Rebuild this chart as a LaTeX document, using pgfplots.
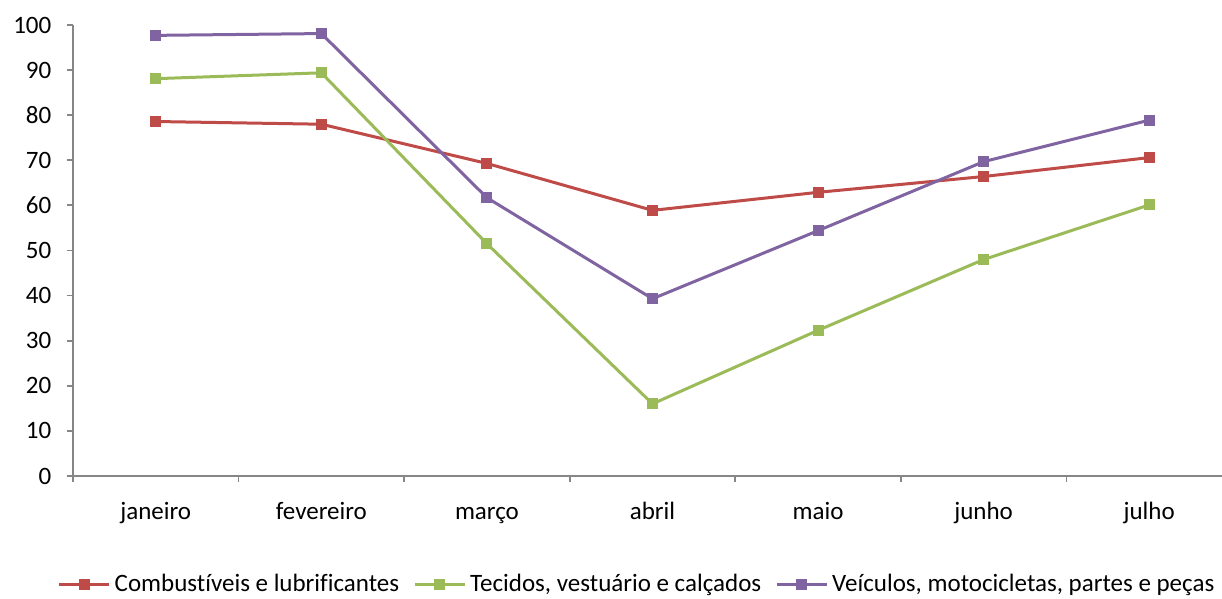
\documentclass[border=0pt]{standalone}
\usepackage{fontspec}
\setmainfont{Carlito}[Ligatures=NoCommon]
\usepackage{pgfplots}
\pgfplotsset{compat=1.18}
\definecolor{cred}{RGB}{190,75,72}
\definecolor{cgreen}{RGB}{155,187,89}
\definecolor{cpurple}{RGB}{128,100,162}
\definecolor{caxis}{RGB}{134,134,134}
\begin{document}
\begin{tikzpicture}[x=1pt,y=1pt]
\begin{axis}[
  name=ax,
  at={(0,0)}, anchor=south west,
  scale only axis,
  width=579.5pt, height=225.5pt,
  xmin=-0.5, xmax=6.5, ymin=0, ymax=100,
  axis x line*=bottom, axis y line*=left,
  axis line style={caxis, line width=0.9pt},
  xtick={0,...,6},
  xticklabels={janeiro,fevereiro,março,abril,maio,junho,julho},
  major x tick style={draw=none},
  minor xtick={-0.5,0.5,...,6.5},
  minor x tick style={caxis, line width=0.9pt},
  minor tick length=3pt,
  ytick={0,10,...,100},
  y tick style={caxis, line width=0.9pt},
  major tick length=3pt,
  tick align=outside,
  tick label style={font=\fontsize{12.5}{14}\selectfont, text=black},
  /pgf/number format/assume math mode=true,
  xticklabel style={anchor=base, yshift=-19pt},
  yticklabel style={xshift=-4.3pt},
  legend columns=3,
  legend style={draw=none, fill=none, at={(0.4875,-0.24)}, anchor=center,
    font=\fontsize{12.5}{14}\selectfont,
    nodes={inner xsep=2pt, inner ysep=1pt},
    /tikz/every even column/.append style={column sep=5pt}},
  legend image code/.code={
    \draw[#1, mark=none] (0pt,0pt) -- (25pt,0pt);
    \draw[#1, only marks] plot coordinates {(12.5pt,0pt)};
  },
  every axis plot/.append style={line width=1.5pt, mark=square*, mark size=2pt, mark options={solid}},
]
\addplot[cred, mark options={fill=cred}] coordinates {(0,78.6) (1,78.0) (2,69.3) (3,58.9) (4,62.9) (5,66.4) (6,70.6)};
\addlegendentry{Combustíveis e lubrificantes}
\addplot[cgreen, mark options={fill=cgreen}] coordinates {(0,88.1) (1,89.4) (2,51.5) (3,16.0) (4,32.3) (5,48.0) (6,60.1)};
\addlegendentry{Tecidos, vestuário e calçados}
\addplot[cpurple, mark options={fill=cpurple}] coordinates {(0,97.7) (1,98.1) (2,61.7) (3,39.3) (4,54.4) (5,69.7) (6,78.9)};
\addlegendentry{Veículos, motocicletas, partes e peças}
\end{axis}
\pgfresetboundingbox
\useasboundingbox (-36.5pt,-61.5pt) rectangle (574.5pt,238pt);
\end{tikzpicture}
\end{document}
